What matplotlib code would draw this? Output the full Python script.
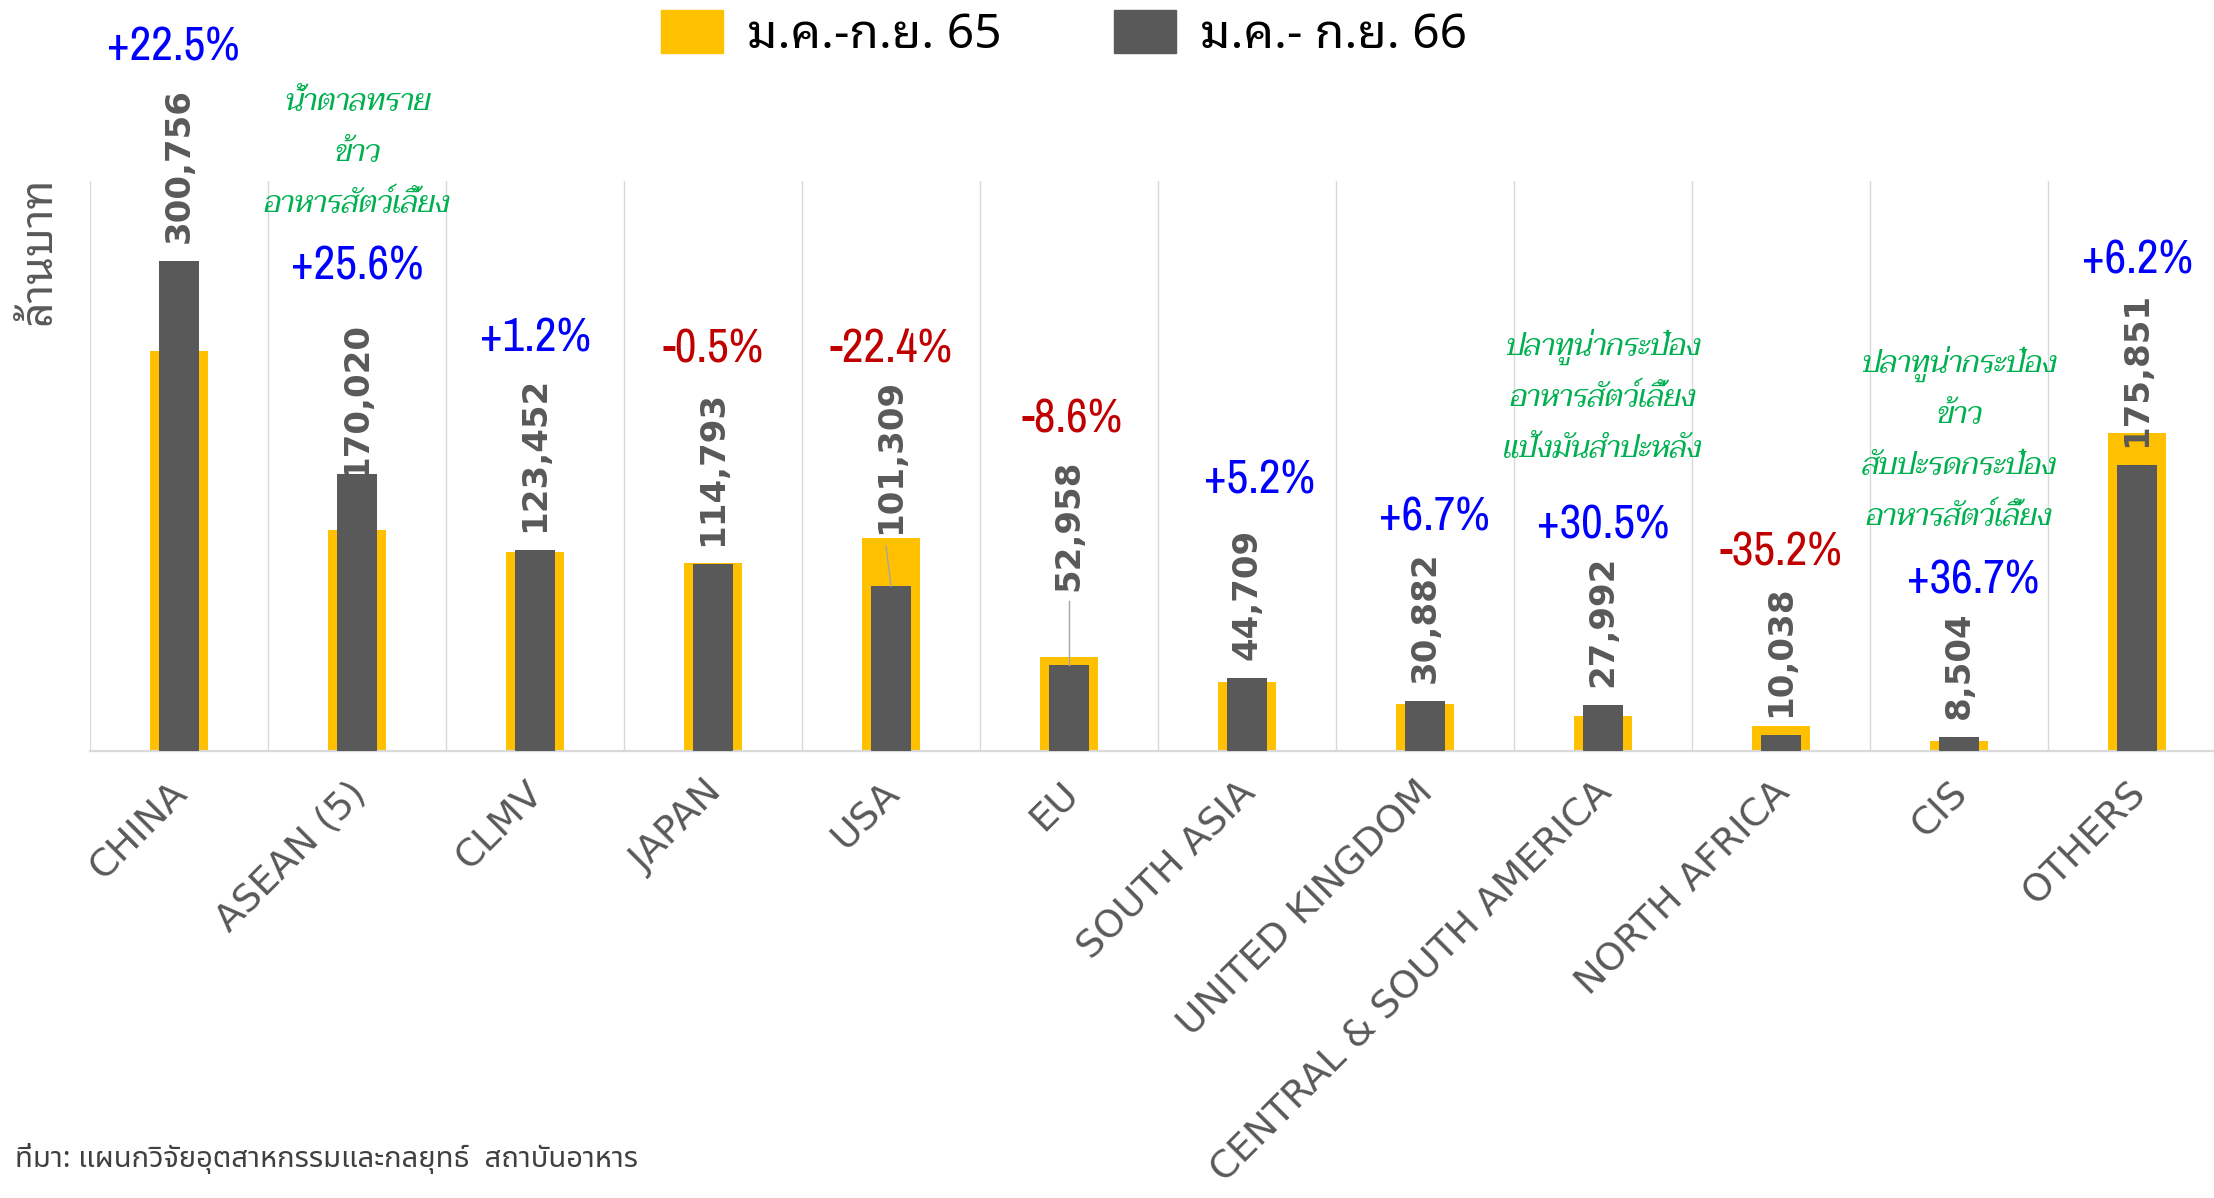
import numpy as np
import matplotlib
matplotlib.use('Agg')
import matplotlib.pyplot as plt
import matplotlib.transforms as mtransforms
from matplotlib import font_manager as fm
from matplotlib.patches import Patch
from matplotlib.font_manager import FontProperties

categories = ['CHINA', 'ASEAN (5)', 'CLMV', 'JAPAN', 'USA', 'EU', 'SOUTH ASIA',
              'UNITED KINGDOM', 'CENTRAL & SOUTH AMERICA', 'NORTH AFRICA', 'CIS', 'OTHERS']
val_65 = [245500, 135400, 122000, 115400, 130600, 57900, 42500, 28900, 21500, 15300, 6100, 195000]
val_66 = [300756, 170020, 123452, 114793, 101309, 52958, 44709, 30882, 27992, 10038, 8504, 175851]
pct_labels = ['+22.5%', '+25.6%', '+1.2%', '-0.5%', '-22.4%', '-8.6%', '+5.2%', '+6.7%',
              '+30.5%', '-35.2%', '+36.7%', '+6.2%']
legend_labels = ['ม.ค.-ก.ย. 65', 'ม.ค.- ก.ย. 66']
note_asean = ['น้ำตาลทราย', 'ข้าว', 'อาหารสัตว์เลี้ยง']
note_csa = ['ปลาทูน่ากระป๋อง', 'อาหารสัตว์เลี้ยง', 'แป้งมันสำปะหลัง']
note_cis = ['ปลาทูน่ากระป๋อง', 'ข้าว', 'สับปะรดกระป๋อง', 'อาหารสัตว์เลี้ยง']
ylabel = 'ล้านบาท'
source = 'ที่มา: แผนกวิจัยอุตสาหกรรมและกลยุทธ์  สถาบันอาหาร'

names = {f.name for f in fm.fontManager.ttflist}


def pick(*cands):
    for c in cands:
        if c in names:
            return c
    return 'DejaVu Sans'


narrow = pick('Archivo Narrow', 'Roboto Condensed', 'Fira Sans Condensed', 'Barlow Condensed')
thai_loop = pick('Noto Sans Thai Looped', 'IBM Plex Sans Thai Looped', 'Sarabun', 'Noto Sans Thai')
thai_plain = pick('Noto Sans Thai', 'Anuphan', 'Sarabun')
thai_ital = pick('Taviraj', 'Trirong', 'Sarabun', 'Noto Sans Thai')

YEL = '#FFC000'
DARK = '#595959'
GRID = '#D9D9D9'
GREEN = '#00B050'

W, H = 2214, 1198
fig = plt.figure(figsize=(W / 100, H / 100), dpi=100)
ax = fig.add_axes([90 / W, 1 - 751 / H, 12 * 178 / W, 570 / H])

x = np.arange(len(categories))
ax.bar(x, val_65, width=0.33, color=YEL, zorder=2)
ax.bar(x, val_66, width=0.23, color=DARK, zorder=3)

ax.set_xlim(-0.5, 11.5)
ax.set_ylim(0, 350000)
for b in np.arange(-0.5, 12, 1):
    ax.axvline(b, color=GRID, lw=1.0, zorder=0)
for s in ['top', 'right', 'left']:
    ax.spines[s].set_visible(False)
ax.spines['bottom'].set_color(GRID)
ax.spines['bottom'].set_linewidth(1.6)
ax.set_yticks([])
ax.set_xticks(x)
ax.set_xticklabels(categories, rotation=45, ha='right', fontsize=27.5, color=DARK)
ax.tick_params(axis='x', length=0, pad=17)
shift = mtransforms.ScaledTranslation(16 / 100, 0, fig.dpi_scale_trans)
for lab in ax.get_xticklabels():
    lab.set_transform(lab.get_transform() + shift)

# value labels (2023)
label_base = [None, 168000, None, None, 133400, 98400, None, None, None, None, None, 186600]
for i, v in enumerate(val_66):
    y = label_base[i] if label_base[i] is not None else v + 11000
    ax.text(i, y, f'{v:,}', rotation=90, ha='center', va='bottom', fontsize=24.5,
            fontweight='bold', color=DARK, zorder=5)

# leader lines
ax.plot([4 - 0.028, 4], [125800, val_66[4]], color='#A6A6A6', lw=1.0, zorder=4)
ax.plot([5, 5], [91900, val_66[5]], color='#A6A6A6', lw=1.0, zorder=4)

# percent change labels
pct_y = [432500, 298100, 253900, 246900, 246900, 203600, 166400, 143800, 138600, 122200, 104800, 301600]
pct_dx = [-0.03, 0, 0, 0, 0, 0.02, 0.07, 0.055, 0, 0, 0.08, 0]
for i, lab in enumerate(pct_labels):
    col = '#C00000' if lab.startswith('-') else '#0000FF'
    ax.text(i + pct_dx[i], pct_y[i], lab, ha='center', va='center', fontsize=34,
            family=[narrow, 'DejaVu Sans'], color=col, clip_on=False)

# green notes
step = 31300
for idx, lines, top in [(1, note_asean, 398500), (8, note_csa, 248000), (10, note_cis, 237600)]:
    for k, t in enumerate(lines):
        ax.text(idx, top - k * step, t, ha='center', va='center', fontsize=22,
                family=[thai_ital, 'DejaVu Sans'], style='italic', color=GREEN, clip_on=False)

# legend
handles = [Patch(color=YEL, label=legend_labels[0]), Patch(color=DARK, label=legend_labels[1])]
fig.legend(handles=handles, loc='upper left', bbox_to_anchor=(661 / W, 1 - 10 / H), ncol=2,
           frameon=False, prop=FontProperties(family=[thai_loop, 'DejaVu Sans'], size=34.5),
           handlelength=1.3, handleheight=1.0, handletextpad=0.5, columnspacing=2.33,
           borderpad=0, borderaxespad=0)

fig.text(39 / W, 1 - 251 / H, ylabel, rotation=90, ha='center', va='center', fontsize=32,
         color=DARK, family=[thai_loop, 'DejaVu Sans'])
fig.text(15 / W, 1 - 1158 / H, source, ha='left', va='center', fontsize=21, color='#404040',
         family=[thai_plain, 'DejaVu Sans'])

fig.savefig('out.png', dpi=100)
